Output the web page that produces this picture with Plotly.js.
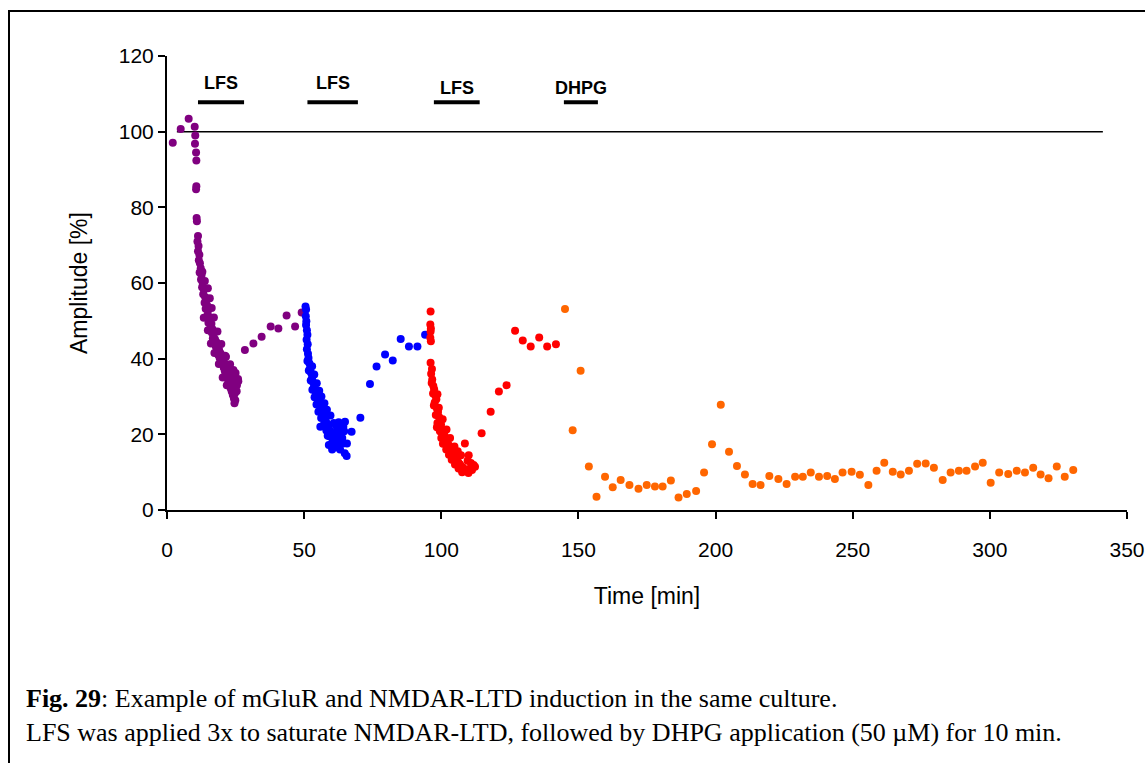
<!DOCTYPE html>
<html>
<head>
<meta charset="utf-8">
<script src="https://cdn.plot.ly/plotly-3.0.1.min.js"></script>
<style>
html,body{margin:0;padding:0;background:#fff;}
#chart{width:1145px;height:763px;}
</style>
</head>
<body>
<div id="chart"></div>
<script>
// ---- Data (time in min, amplitude in %) ----
const purpleTime = [2.1,5.0,7.9,
10.1,10.3,10.2,10.6,10.7,10.7,10.6,10.8,10.9,11.3,11.1,11.5,11.3,11.8,11.6,12.0,12.3,11.9,12.6,12.4,13.0,12.8,13.5,13.2,13.9,14.3,13.7,14.6,14.1,15.0,14.8,15.4,15.7,15.1,16.2,15.9,16.6,16.3,17.0,16.7,17.5,17.2,18.0,17.8,18.5,18.2,19.0,18.7,19.5,19.2,20.0,19.8,20.5,20.2,21.0,20.7,21.4,21.1,21.9,21.6,22.3,22.0,22.7,22.4,23.1,22.8,23.5,23.2,23.9,23.6,24.3,24.0,24.7,24.4,24.9,24.6,25.3,25.9,25.5,25.0,24.2,23.0,21.5,18.9,20.3,21.8,17.3,16.0,14.9,13.4,26.0,
13.8,14.9,15.6,16.3,17.1,18.4,19.8,21.2,22.6,24.0,25.4,12.9,
28.4,31.5,34.5,37.8,40.6,43.6,46.7,49.1];
const purpleAmp = [97.1,100.7,103.4,
101.3,99.0,96.8,94.5,92.4,85.6,84.8,77.2,76.3,72.4,71.0,69.8,68.4,67.5,66.0,65.2,63.9,62.8,62.1,60.9,60.0,58.9,58.2,57.0,56.3,55.6,54.8,54.1,53.2,52.8,51.6,51.0,50.3,49.5,49.2,48.1,47.8,46.9,46.5,45.4,45.1,44.0,44.4,43.2,43.0,42.1,42.3,41.0,41.4,40.2,40.6,39.3,39.7,38.5,38.8,37.6,37.9,36.7,37.0,35.8,36.2,34.9,35.3,34.0,34.4,33.1,33.5,32.2,32.6,31.3,31.7,30.4,30.8,29.5,29.0,28.2,34.0,34.6,33.0,36.2,37.0,38.5,40.5,38.6,35.0,33.0,41.5,44.0,47.5,50.8,34.0,
60.5,58.6,56.0,53.4,50.9,47.2,43.9,40.8,38.0,35.6,31.4,63.0,
42.3,44.0,45.8,48.5,48.0,51.4,48.5,52.2];

const blueTime = [50.5,50.7,50.6,50.8,50.7,51.0,51.2,50.9,51.3,51.0,51.4,51.6,51.2,51.9,52.2,51.7,52.5,52.9,52.4,53.2,53.6,53.0,54.0,54.4,53.8,54.8,55.3,54.5,55.7,56.1,55.2,56.6,57.0,56.2,57.5,58.0,57.2,58.5,59.0,58.1,59.5,60.0,59.2,60.6,61.2,60.3,61.8,62.4,61.5,62.9,63.5,64.2,64.8,65.5,63.8,64.9,64.3,65.6,62.0,60.8,59.6,58.3,57.4,56.3,55.5,54.6,53.7,52.9,61.3,62.6,63.1,57.9,
59.0,60.2,61.6,62.8,63.9,64.6,58.6,55.9,
67.3,70.5,74.0,76.4,79.5,82.3,85.2,88.2,91.3,94.1];
const blueAmp = [53.8,53.0,51.2,49.9,48.9,47.5,46.3,45.0,43.8,42.5,41.3,40.2,39.4,38.8,37.6,36.9,36.3,35.1,34.2,33.8,32.7,31.8,31.5,30.6,29.8,29.4,28.6,27.9,27.5,26.7,26.0,25.8,24.9,24.3,24.0,23.3,22.6,22.4,21.6,21.0,20.9,20.1,19.5,19.3,18.6,17.9,17.8,17.1,16.6,19.8,18.9,17.6,15.0,14.3,21.4,23.3,22.0,17.6,21.8,23.0,25.0,26.5,28.2,30.0,31.5,33.5,35.8,38.0,20.3,23.2,16.0,25.6,
17.2,16.0,22.4,20.6,19.0,20.8,19.6,22.0,
20.7,24.4,33.3,37.9,41.1,39.5,45.2,43.2,43.2,46.3];

const redTime = [96.1,96.0,96.2,96.1,96.0,96.2,96.1,96.6,96.3,96.7,96.5,97.1,97.4,97.0,97.9,98.2,97.6,97.3,98.4,98.8,98.0,99.2,99.6,98.6,99.9,98.4,100.3,99.5,100.8,101.2,100.0,101.6,102.1,100.6,102.6,103.0,101.8,103.5,104.0,102.8,104.5,105.0,103.8,105.6,106.2,105.0,106.8,107.4,106.3,108.0,108.6,107.6,109.3,109.9,110.5,111.2,111.8,112.3,110.8,109.6,108.6,107.2,104.8,103.2,101.9,100.5,99.1,98.6,106.0,110.0,
114.7,118.0,121.0,123.8,126.9,129.7,132.6,135.7,138.6,141.8];
const redAmp = [52.5,49.0,48.0,47.2,45.5,44.6,38.9,37.3,36.0,34.5,33.6,32.8,31.9,30.8,30.2,29.3,28.4,27.6,26.8,25.9,25.1,24.6,23.8,23.0,22.6,21.9,21.4,20.8,20.3,19.6,19.0,18.7,18.0,17.5,17.3,16.5,16.0,15.8,15.1,14.6,14.4,13.8,13.3,13.2,12.6,12.0,12.1,11.5,11.0,11.2,10.6,10.0,10.4,9.8,11.0,10.6,11.9,11.4,12.4,13.0,17.6,14.5,16.8,19.0,21.3,24.0,27.0,30.6,15.5,14.5,
20.3,26.0,31.3,33.0,47.4,44.8,43.2,45.6,43.2,43.8];

const orangeTime = [145.1,147.9,150.8,153.8,156.6,159.7,162.5,165.4,168.6,171.9,174.9,177.9,180.7,183.7,186.5,189.5,192.9,195.8,198.7,201.9,204.9,207.8,210.7,213.5,216.4,219.6,222.9,225.9,229.0,231.8,234.7,237.7,240.7,243.5,246.3,249.6,252.6,255.7,258.7,261.5,264.6,267.5,270.5,273.5,276.6,279.6,282.8,285.7,288.7,291.5,294.6,297.4,300.3,303.4,306.7,309.8,312.8,315.8,318.5,321.4,324.4,327.3,330.4];
const orangeAmp = [53.1,21.1,36.8,11.5,3.5,8.8,6.0,7.9,6.6,5.6,6.6,6.2,6.2,7.8,3.3,4.2,5.0,9.9,17.4,27.8,15.4,11.6,9.4,6.9,6.6,9.0,8.2,6.9,8.8,8.8,9.9,8.8,9.0,8.2,9.9,10.1,9.3,6.6,10.4,12.5,10.1,9.4,10.4,12.2,12.3,11.2,7.9,9.9,10.4,10.4,11.5,12.5,7.2,9.9,9.5,10.4,9.9,11.2,9.4,8.4,11.5,8.8,10.6];

// 100 % baseline
const baselineTime = [3.6, 341.2];
const baselineAmp = [100, 100];

// Stimulation labels and bars
const stimLabels = ["LFS", "LFS", "LFS", "DHPG"];
const stimStart = [11.3, 51.2, 97.3, 144.7];
const stimEnd = [28.1, 69.6, 114.0, 157.1];

const xTicks = [0, 50, 100, 150, 200, 250, 300, 350];
const yTicks = [0, 20, 40, 60, 80, 100, 120];

const captionBold = "Fig. 29";
const captionLine1 = ": Example of mGluR and NMDAR-LTD induction in the same culture.";
const captionLine2 = "LFS was applied 3x to saturate NMDAR-LTD, followed by DHPG application (50 µM) for 10 min.";

// ---- Figure ----
const mk = (c) => ({color: c, size: 8, line: {width: 0}});
const traces = [
  {x: baselineTime, y: baselineAmp, mode: 'lines', line: {color: '#000', width: 1.5}, hoverinfo: 'skip'},
  {x: purpleTime, y: purpleAmp, mode: 'markers', marker: mk('#800080')},
  {x: blueTime, y: blueAmp, mode: 'markers', marker: mk('#0000FF')},
  {x: redTime, y: redAmp, mode: 'markers', marker: mk('#FF0000')},
  {x: orangeTime, y: orangeAmp, mode: 'markers', marker: mk('#FF6600')}
];

const L = 167, R = 1127, T = 56, B = 510;
const px2paperX = (p) => (p - L) / (R - L);
const px2paperY = (p) => (B - p) / (B - T);

const shapes = stimStart.map((s, i) => ({
  type: 'line', xref: 'x', yref: 'y', x0: s, x1: stimEnd[i], y0: 107.8, y1: 107.8,
  line: {color: '#000', width: 4}
}));
// outer frame
shapes.push({type: 'rect', xref: 'paper', yref: 'paper',
  x0: px2paperX(9), x1: px2paperX(1160), y0: px2paperY(780), y1: px2paperY(11),
  line: {color: '#000', width: 2}, fillcolor: 'rgba(0,0,0,0)'});

const labelY = [112.9, 112.9, 111.5, 111.5];
const annotations = stimLabels.map((t, i) => ({
  text: '<b>' + t + '</b>', x: (stimStart[i] + stimEnd[i]) / 2, y: labelY[i], xref: 'x', yref: 'y',
  showarrow: false, font: {family: 'Liberation Sans, Arial, sans-serif', size: 18, color: '#000'}
}));
annotations.push({
  text: '<b>' + captionBold + '</b>' + captionLine1 + '<br>' + captionLine2,
  xref: 'paper', yref: 'paper', x: px2paperX(24), y: px2paperY(682),
  xanchor: 'left', yanchor: 'top', align: 'left', showarrow: false,
  font: {family: 'Liberation Serif, Times New Roman, serif', size: 26, color: '#000'}
});

const layout = {
  width: 1145, height: 763,
  margin: {l: L, r: 1145 - R, t: T, b: 763 - B, pad: 0},
  paper_bgcolor: '#fff', plot_bgcolor: '#fff',
  showlegend: false,
  font: {family: 'Liberation Sans, Arial, sans-serif', size: 20, color: '#000'},
  xaxis: {
    range: [0, 350], tickvals: xTicks, ticktext: xTicks.map(String),
    showgrid: false, zeroline: false, showline: true, linecolor: '#000', linewidth: 2,
    ticks: 'outside', ticklen: 7, tickwidth: 2, tickcolor: '#000',
    ticklabelstandoff: 13,
    title: {text: 'Time [min]', font: {size: 23}, standoff: 28},
    tickfont: {size: 21}
  },
  yaxis: {
    range: [0, 120], tickvals: yTicks, ticktext: yTicks.map(String),
    showgrid: false, zeroline: false, showline: true, linecolor: '#000', linewidth: 2,
    ticks: 'outside', ticklen: 7, tickwidth: 2, tickcolor: '#000',
    title: {text: 'Amplitude [%]', font: {size: 23}, standoff: 25},
    tickfont: {size: 21}
  },
  shapes: shapes,
  annotations: annotations
};

Plotly.newPlot('chart', traces, layout, {staticPlot: true, displayModeBar: false});
</script>
</body>
</html>
